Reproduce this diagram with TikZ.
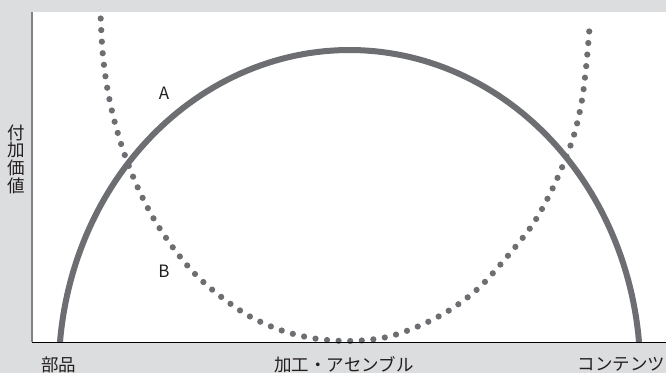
\documentclass[tikz,border=0pt]{standalone}
\usepackage{fontspec}
\setmainfont{Noto Sans CJK JP}
\definecolor{bgc}{HTML}{DCDDDE}
\definecolor{curvec}{HTML}{6D6E71}
\definecolor{axisc}{HTML}{808285}
\definecolor{txtc}{HTML}{231F20}
\begin{document}
\begin{tikzpicture}[x=1pt,y=-1pt,
  lbl/.style={text=txtc,font=\fontsize{17.5}{17.7}\selectfont,inner sep=0pt},
  solidcurve/.style={draw=curvec,line width=6pt},
  dotcurve/.style={draw=curvec,line width=6.2pt,line cap=round,dash pattern=on 0pt off 11.6pt}]
  \fill[bgc] (0,0) rectangle (666,373);
  \useasboundingbox (0,0) rectangle (666,373);
  \fill[white] (32,12) rectangle (666,342);
  % solid arc A
  \draw[solidcurve] plot[domain=5.35:174.65,samples=120] ({349.5+290.8*cos(\x)},{372-322*sin(\x)});
  % dotted curve B
  \draw[dotcurve] plot[smooth,tension=0.55] coordinates {
    (100.7,18.5) (102.7,53.3) (107.3,88.3) (114.7,122) (125,155.7) (138,188)
    (153.7,218.7) (173.3,248) (195.7,274.7) (221.7,297.3) (250.3,316.7)
    (282.3,330.7) (316,338.7) (350.7,341) (385.7,337.3) (418.3,326.3)
    (449.3,310.3) (477.3,289.3) (500,265) (530,228.3) (547.7,198.3)
    (562.3,166.7) (574.3,134) (582,100) (586.3,65) (589.3,30.5)};
  % axes
  \coordinate (ytop) at (32,12);
  \coordinate (orig) at (32,342);
  \coordinate (xend) at (666,342);
  \draw[axisc,line width=1.4pt] (ytop) -- (orig);
  \draw[black,line width=1pt] (orig) -- (xend);
  % labels
  \node[lbl,align=center] (yl) at (16,159) {付\\加\\価\\値};
  \node[lbl] (x1) at (58.5,364.5) {部品};
  \node[lbl] (x2) at (344,364.5) {加工・アセンブル};
  \node[lbl,anchor=east] (x3) at (665.5,364.5) {コンテンツ};
  \node[lbl,font=\fontsize{17}{17}\selectfont] (la) at (164,93.5) {A};
  \node[lbl,font=\fontsize{17}{17}\selectfont] (lb) at (164,271.5) {B};
\end{tikzpicture}
\end{document}
